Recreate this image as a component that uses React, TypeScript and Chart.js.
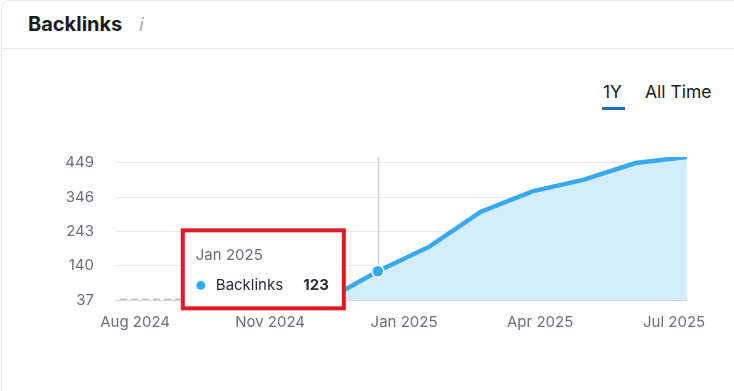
import React, { useEffect, useRef } from "react";
import { Chart, registerables } from "chart.js";

Chart.register(...registerables);

const months = [
  "Aug 2024", "Sep 2024", "Oct 2024", "Nov 2024", "Dec 2024", "Jan 2025",
  "Feb 2025", "Mar 2025", "Apr 2025", "May 2025", "Jun 2025", "Jul 2025",
];
const backlinks: (number | null)[] = [null, null, null, null, 37, 123, 197, 302, 363, 398, 448, 466];
const noData: (number | null)[] = [37, 37, 37, 37, 37, null, null, null, null, null, null, null];
const yTicks = [37, 140, 243, 346, 449];
const xTickLabels = ["Aug 2024", "Nov 2024", "Jan 2025", "Apr 2025", "Jul 2025"];
const xTickAt = [0.29, 2.91, 5.51, 8.15, 10.75];
const activeIndex = 5;

const FONT = "Inter, 'Noto Sans', sans-serif";

const hoverPlugin = {
  id: "hoverPlugin",
  beforeDatasetsDraw(chart: any) {
    const pt = chart.getDatasetMeta(0).data[activeIndex];
    if (!pt) return;
    const { ctx, chartArea } = chart;
    ctx.save();
    ctx.strokeStyle = "#c9cbd1";
    ctx.lineWidth = 1;
    ctx.beginPath();
    ctx.moveTo(Math.round(pt.x) + 0.5, chartArea.top);
    ctx.lineTo(Math.round(pt.x) + 0.5, chartArea.bottom);
    ctx.stroke();
    ctx.restore();
  },
  afterDraw(chart: any) {
    const pt = chart.getDatasetMeta(0).data[activeIndex];
    if (!pt) return;
    const { ctx } = chart;
    const right = pt.x - 32;
    const left = right - 165;
    const top = pt.y - 43;
    const bottom = pt.y + 39;
    ctx.save();
    ctx.fillStyle = "#ffffff";
    ctx.fillRect(left, top, right - left, bottom - top);
    ctx.strokeStyle = "#e01a22";
    ctx.lineWidth = 4;
    ctx.strokeRect(left + 2, top + 2, right - left - 4, bottom - top - 4);
    ctx.textBaseline = "middle";
    ctx.textAlign = "left";
    ctx.font = `15px ${FONT}`;
    ctx.fillStyle = "#6c6e79";
    ctx.fillText(months[activeIndex], left + 15, top + 27);
    ctx.beginPath();
    ctx.fillStyle = "#2eaef5";
    ctx.arc(left + 20, top + 57, 4.5, 0, Math.PI * 2);
    ctx.fill();
    ctx.fillStyle = "#2b2d36";
    ctx.font = `15px ${FONT}`;
    ctx.fillText("Backlinks", left + 35, top + 57);
    ctx.font = `bold 15px ${FONT}`;
    ctx.textAlign = "right";
    ctx.fillText(String(backlinks[activeIndex]), right - 17, top + 57);
    ctx.restore();
  },
};

export default function App() {
  const canvasRef = useRef<HTMLCanvasElement | null>(null);

  useEffect(() => {
    if (!canvasRef.current) return;
    const chart = new Chart(canvasRef.current, {
      type: "line",
      data: {
        datasets: [
          {
            label: "Backlinks",
            data: backlinks.map((v, i) => ({ x: i, y: v })) as any,
            borderColor: "#36a9f1",
            backgroundColor: "#d4edfb",
            borderWidth: 4.5,
            fill: "start",
            tension: 0,
            pointRadius: backlinks.map((_, i) => (i === activeIndex ? 6 : 0)),
            pointBackgroundColor: "#36a9f1",
            pointBorderColor: "#ffffff",
            pointBorderWidth: 1.5,
            spanGaps: false,
          },
          {
            label: "No data",
            data: noData.map((v, i) => ({ x: i, y: v })) as any,
            borderColor: "#c6c7cc",
            borderWidth: 3,
            borderDash: [7, 4],
            pointRadius: 0,
            fill: false,
            spanGaps: false,
          },
        ],
      },
      options: {
        animation: false,
        responsive: true,
        maintainAspectRatio: false,
        events: [],
        layout: { padding: { top: 4, right: 47, left: 0, bottom: 0 } },
        plugins: { legend: { display: false }, tooltip: { enabled: false } },
        scales: {
          x: {
            type: "linear",
            min: -0.1,
            max: months.length - 1,
            grid: { display: false, drawTicks: false },
            border: { display: true, color: "#d3d5da", width: 1 },
            afterBuildTicks: (scale: any) => {
              scale.ticks = xTickAt.map((v) => ({ value: v }));
            },
            afterFit: (scale: any) => {
              scale.height = 40;
            },
            ticks: {
              autoSkip: false,
              maxRotation: 0,
              padding: 13,
              color: "#6c6e79",
              font: { family: FONT, size: 15 },
              callback: (_v: any, i: number) => xTickLabels[i],
            },
          },
          y: {
            min: 37,
            max: 466,
            grid: { color: "#e6e7eb", drawTicks: false },
            border: { display: false },
            afterBuildTicks: (scale: any) => {
              scale.ticks = yTicks.map((v) => ({ value: v }));
            },
            afterFit: (scale: any) => {
              scale.width = 115;
            },
            ticks: {
              padding: 21,
              color: "#6c6e79",
              font: { family: FONT, size: 15 },
            },
          },
        },
      },
      plugins: [hoverPlugin],
    });
    return () => chart.destroy();
  }, []);

  return (
    <div style={{ position: "fixed", left: 0, top: 0, width: 734, height: 391, overflow: "hidden", background: "#fff", fontFamily: FONT }}>
      <div style={{ position: "absolute", left: 1, top: 0, width: 760, height: 420, border: "1px solid #e4e5e8", borderRadius: 8, boxSizing: "border-box" }} />
      <div style={{ position: "absolute", left: 2, top: 48, width: 740, height: 1, background: "#e6e7ea" }} />
      <div style={{ position: "absolute", left: 28, top: 11, fontSize: 20, fontWeight: 700, color: "#191b23", lineHeight: "26px" }}>Backlinks</div>
      <div style={{ position: "absolute", left: 139, top: 12, fontSize: 18, fontStyle: "italic", color: "#a3a6ae", lineHeight: "26px", fontFamily: "'DejaVu Sans', sans-serif" }}>i</div>
      <div style={{ position: "absolute", left: 603, top: 80, fontSize: 17.5, color: "#191b23", lineHeight: "24px" }}>1Y</div>
      <div style={{ position: "absolute", left: 602, top: 107, width: 23, height: 3, background: "#1b6ec2" }} />
      <div style={{ position: "absolute", left: 645, top: 80, fontSize: 17.5, color: "#191b23", lineHeight: "24px" }}>All Time</div>
      <div style={{ position: "absolute", left: 0, top: 127, width: 734, height: 213 }}>
        <canvas ref={canvasRef} />
      </div>
    </div>
  );
}
